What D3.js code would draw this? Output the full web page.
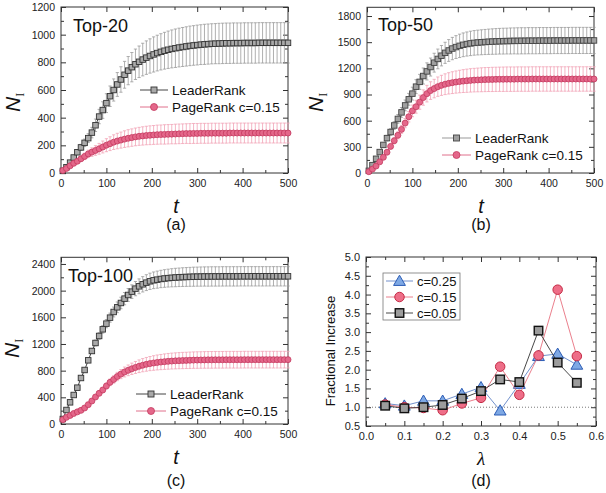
<!DOCTYPE html>
<html><head><meta charset="utf-8">
<script src="https://cdn.jsdelivr.net/npm/d3@7"></script>
<style>body{margin:0;background:#fff}svg{display:block}</style>
</head><body><svg id="c" width="606" height="493"></svg>
<script>
// ---------- DATA ----------
const tSteps = [4,12,20,28,36,44,52,60,68,76,84,92,100,
  108,116,124,132,140,148,156,164,172,180,
  188,196,204,212,220,228,236,244,252,260,
  268,276,284,292,300,308,316,324,332,340,
  348,356,364,372,380,388,396,404,412,420,
  428,436,444,452,460,468,476,484,492,500];

// Panel (a) Top-20
const leaderTop20 = [15,42,75,112,150,185,218,252,292,345,408,455,505,
  555,600,640,676,710,740,765,786,804,820,
  834,846,857,867,876,884,891,897,902,907,
  911,915,919,922,925,928,930,932,934,935,
  936,937,938,938,939,939,939,940,940,940,
  940,941,941,941,941,941,941,941,941,941];
const leaderTop20Err = [4,7,10,14,18,22,27,32,38,45,52,60,68,
  74,80,86,92,97,102,106,110,114,118,
  121,124,127,129,131,133,135,137,139,140,
  141,142,143,143,144,144,145,145,145,145,
  146,146,146,146,146,146,146,146,146,146,
  146,146,146,146,146,146,146,146,146,146];
const pageTop20 = [18,33,52,70,85,103,120,138,151,163,175,188,201,
  212,223,231,238,245,251,256,261,265,268,
  271,273,275,277,278,279,280,281,282,283,
  284,285,285,286,286,287,287,287,288,288,
  288,288,288,289,289,289,289,289,289,289,
  289,289,289,289,289,289,289,289,289,289];
const pageTop20Err = [4,6,9,12,15,19,23,27,31,35,39,43,47,
  50,53,56,58,60,62,63,64,65,66,
  67,68,68,69,69,70,70,70,71,71,
  71,71,72,72,72,72,72,72,72,72,
  72,72,72,72,72,72,72,72,72,72,
  72,72,72,72,72,72,72,72,72,72];

// Panel (b) Top-50
const leaderTop50 = [25,90,163,240,322,400,470,545,620,695,775,845,910,
  990,1045,1112,1165,1215,1265,1308,1345,1378,1405,
  1427,1444,1458,1470,1479,1486,1492,1496,1499,1502,
  1505,1507,1509,1511,1512,1513,1514,1515,1515,1516,
  1516,1517,1517,1517,1518,1518,1518,1518,1519,1519,
  1519,1519,1519,1520,1520,1520,1520,1520,1520,1520];
const leaderTop50Err = [3,8,14,20,26,32,38,44,50,56,62,68,74,
  80,86,92,98,103,108,113,117,121,125,
  128,131,134,136,138,140,141,142,143,144,
  145,146,147,147,148,148,149,149,150,150,
  150,150,150,150,150,150,150,150,150,150,
  150,150,150,150,150,150,150,150,150,150];
const pageTop50 = [15,45,80,128,180,238,305,370,432,500,572,645,712,
  760,812,865,910,945,968,990,1005,1018,1028,
  1036,1043,1049,1054,1058,1062,1065,1067,1069,1071,
  1072,1073,1074,1075,1075,1076,1076,1076,1077,1077,
  1077,1077,1078,1078,1078,1078,1078,1078,1078,1078,
  1078,1078,1078,1078,1078,1078,1078,1078,1078,1078];
const pageTop50Err = [2,5,9,13,18,23,28,34,40,46,53,60,67,
  74,81,88,95,101,106,111,115,119,122,
  125,127,129,131,133,134,135,136,137,138,
  138,139,139,139,140,140,140,140,140,140,
  140,140,140,140,140,140,140,140,140,140,
  140,140,140,140,140,140,140,140,140,140];

// Panel (c) Top-100
const leaderTop100 = [75,210,325,435,545,690,810,955,1095,1215,1320,1420,1505,
  1595,1680,1750,1815,1880,1935,1985,2030,2065,2095,
  2120,2140,2155,2165,2175,2182,2188,2193,2197,2200,
  2203,2205,2207,2209,2210,2211,2212,2212,2213,2213,
  2213,2214,2214,2214,2214,2214,2215,2215,2215,2215,
  2215,2215,2215,2215,2215,2215,2215,2215,2215,2215];
const leaderTop100Err = [3,6,10,14,18,23,28,33,38,44,50,56,62,
  68,74,80,86,92,97,102,107,111,115,
  119,122,125,128,130,132,134,136,138,139,
  140,141,142,143,143,144,144,145,145,145,
  145,145,145,145,145,145,145,145,145,145,
  145,145,145,145,145,145,145,145,145,145];
const pageTop100 = [65,100,128,158,182,205,240,290,345,405,460,510,570,
  625,668,712,748,780,805,828,848,866,882,
  895,906,915,923,929,935,940,944,947,950,
  952,954,956,958,959,960,961,962,962,963,
  963,963,964,964,964,964,964,965,965,965,
  965,965,965,965,965,965,965,965,965,965];
const pageTop100Err = [3,5,7,9,11,13,16,20,24,29,34,39,44,
  50,56,62,68,74,80,85,90,95,99,
  103,106,109,112,114,116,118,119,120,121,
  122,122,123,123,124,124,124,125,125,125,
  125,125,125,125,125,125,125,125,125,125,
  125,125,125,125,125,125,125,125,125,125];

// Panel (d)
const lambdas = [0.05,0.10,0.15,0.20,0.25,0.30,0.35,0.40,0.45,0.50,0.55];
const fracC025 = [1.10,1.04,1.17,1.17,1.35,1.53,0.91,1.62,2.36,2.42,2.13];
const fracC015 = [1.07,1.00,0.98,0.92,1.10,1.25,2.08,1.33,2.38,4.13,2.36];
const fracC005 = [1.04,0.97,1.00,1.06,1.23,1.43,1.74,1.67,3.04,2.19,1.65];

// tick labels
const tTicks = [0,100,200,300,400,500];
const tMinor = [50,150,250,350,450];
const yTicksA = [0,200,400,600,800,1000,1200];
const yMinorA = [100,300,500,700,900,1100];
const yTicksB = [0,300,600,900,1200,1500,1800];
const yMinorB = [150,450,750,1050,1350,1650];
const yTicksC = [0,400,800,1200,1600,2000,2400];
const yMinorC = [200,600,1000,1400,1800,2200];
const lamTicks = [0,0.1,0.2,0.3,0.4,0.5,0.6];
const lamMinor = [0.05,0.15,0.25,0.35,0.45,0.55];
const fracTicks = [0.5,1,1.5,2,2.5,3,3.5,4,4.5,5];
const fracMinor = [0.75,1.25,1.75,2.25,2.75,3.25,3.75,4.25,4.75];

// ---------- DRAW ----------
const FONT = "'Liberation Sans', Arial, sans-serif";
const SERIF = "'Liberation Serif', 'Times New Roman', serif";
const svg = d3.select("#c");

function panel(o) {
  const g = svg.append("g");
  const x = d3.scaleLinear().domain(o.xd).range([o.x0, o.x1]);
  const y = d3.scaleLinear().domain(o.yd).range([o.y0, o.y1]);
  const ax = (gen, tr, vals, size, fmt, pad) => {
    const a = g.append("g").attr("transform", tr)
      .call(gen.tickValues(vals).tickSize(size).tickSizeOuter(0).tickPadding(pad).tickFormat(fmt));
    a.select(".domain").remove();
    a.selectAll("line").attr("stroke", "#333").attr("stroke-width", 1);
    a.selectAll("text").attr("font-family", FONT).attr("font-size", o.fs).attr("fill", "#222");
  };
  const none = () => "";
  ax(d3.axisBottom(x), `translate(0,${o.y0})`, o.xMaj, -5, o.xf, o.xpad);
  ax(d3.axisBottom(x), `translate(0,${o.y0})`, o.xMin, -3, none, 0);
  ax(d3.axisTop(x), `translate(0,${o.y1})`, o.xMaj, -5, none, 0);
  ax(d3.axisTop(x), `translate(0,${o.y1})`, o.xMin, -3, none, 0);
  ax(d3.axisLeft(y), `translate(${o.x0},0)`, o.yMaj, -5, o.yf, o.ypad);
  ax(d3.axisLeft(y), `translate(${o.x0},0)`, o.yMin, -3, none, 0);
  ax(d3.axisRight(y), `translate(${o.x1},0)`, o.yMaj, -5, none, 0);
  ax(d3.axisRight(y), `translate(${o.x1},0)`, o.yMin, -3, none, 0);
  g.append("rect").attr("x", o.x0).attr("y", o.y1).attr("width", o.x1 - o.x0).attr("height", o.y0 - o.y1)
    .attr("fill", "none").attr("stroke", "#333").attr("stroke-width", 1);
  return {g, x, y};
}

function marker(sel, kind, cx, cy, s, fill, stroke, sw) {
  if (kind === "square") {
    sel.append("rect").attr("x", cx - s/2).attr("y", cy - s/2).attr("width", s).attr("height", s)
      .attr("fill", fill).attr("stroke", stroke).attr("stroke-width", sw);
  } else if (kind === "circle") {
    sel.append("circle").attr("cx", cx).attr("cy", cy).attr("r", s/2)
      .attr("fill", fill).attr("stroke", stroke).attr("stroke-width", sw);
  } else {
    sel.append("path").attr("d", d3.symbol(d3.symbolTriangle, s*s*0.5)()).attr("transform", `translate(${cx},${cy+1})`)
      .attr("fill", fill).attr("stroke", stroke).attr("stroke-width", sw);
  }
}

function errBars(P, xs, ys, es, color) {
  const eg = P.g.append("g").attr("stroke", color).attr("stroke-width", 0.8);
  xs.forEach((t, i) => {
    const X = P.x(t), a = P.y(ys[i] - es[i]), b = P.y(ys[i] + es[i]);
    eg.append("line").attr("x1", X).attr("x2", X).attr("y1", a).attr("y2", b);
    eg.append("line").attr("x1", X - 1.6).attr("x2", X + 1.6).attr("y1", a).attr("y2", a);
    eg.append("line").attr("x1", X - 1.6).attr("x2", X + 1.6).attr("y1", b).attr("y2", b);
  });
}

function lineMarks(P, xs, ys, st) {
  const line = d3.line().x((d, i) => P.x(xs[i])).y(d => P.y(d));
  P.g.append("path").datum(ys).attr("d", line).attr("fill", "none")
    .attr("stroke", st.line).attr("stroke-width", st.lw || 1);
  const mg = P.g.append("g");
  xs.forEach((t, i) => marker(mg, st.kind, P.x(t), P.y(ys[i]), st.size, st.fill, st.stroke, st.sw));
}

function legendEntry(x, y, st, label, fs, len) {
  const g = svg.append("g");
  g.append("line").attr("x1", x).attr("x2", x + len).attr("y1", y).attr("y2", y)
    .attr("stroke", st.line).attr("stroke-width", st.lw || 1);
  marker(g, st.kind, x + len/2, y, st.legSize || st.size, st.fill, st.stroke, st.sw);
  g.append("text").attr("x", x + len + 4).attr("y", y).attr("dy", "0.36em")
    .attr("font-family", FONT).attr("font-size", fs).attr("fill", "#111").text(label);
}

function nLabel(x, y) {
  const t = svg.append("text").attr("transform", `translate(${x},${y}) rotate(-90)`)
    .attr("font-family", FONT).attr("font-size", 21).attr("font-style", "italic").attr("fill", "#111").text("N");
  t.append("tspan").attr("font-family", SERIF).attr("font-size", 12).attr("font-style", "normal").attr("dy", 4).text("I");
}
function txt(x, y, s, size, opts = {}) {
  svg.append("text").attr("x", x).attr("y", y).attr("text-anchor", opts.anchor || "middle")
    .attr("font-family", opts.family || FONT).attr("font-size", size)
    .attr("font-style", opts.italic ? "italic" : "normal").attr("fill", "#111").text(s);
}

const stLeader = {kind: "square", size: 5.5, fill: "#a9a9a9", stroke: "#333", sw: 0.9, line: "#444", legSize: 6};
const stLeaderB = {kind: "square", size: 5.5, fill: "#a0a0a0", stroke: "#444", sw: 0.9, line: "#999", legSize: 6};
const stPage = {kind: "circle", size: 6, fill: "#e4678a", stroke: "#c43a60", sw: 0.8, line: "#e0708c", legSize: 7};
const errGrey = "#9a9a9a", errPink = "#f1a3b6";

const common = {fs: 10.5, xpad: 7, ypad: 6, xf: d3.format("d"), yf: d3.format("d"), xd: [0, 500], xMaj: tTicks, xMin: tMinor};

// (a)
const A = panel({...common, x0: 61, x1: 288, y0: 173, y1: 7, yd: [0, 1200], yMaj: yTicksA, yMin: yMinorA});
errBars(A, tSteps, leaderTop20, leaderTop20Err, errGrey);
errBars(A, tSteps, pageTop20, pageTop20Err, errPink);
lineMarks(A, tSteps, leaderTop20, stLeader);
lineMarks(A, tSteps, pageTop20, stPage);
txt(73, 31.5, "Top-20", 18, {anchor: "start"});
legendEntry(140, 90, stLeader, "LeaderRank", 13.5, 28);
legendEntry(140, 107, stPage, "PageRank c=0.15", 13.5, 28);
nLabel(19.5, 112);
txt(176, 213, "t", 20, {italic: true});
txt(176, 230, "(a)", 16);

// (b)
const B = panel({...common, x0: 367, x1: 594, y0: 173, y1: 7.3, yd: [0, 1900], yMaj: yTicksB, yMin: yMinorB});
errBars(B, tSteps, leaderTop50, leaderTop50Err, errGrey);
errBars(B, tSteps, pageTop50, pageTop50Err, errPink);
lineMarks(B, tSteps, leaderTop50, stLeaderB);
lineMarks(B, tSteps, pageTop50, stPage);
txt(378, 31, "Top-50", 18, {anchor: "start"});
legendEntry(442, 138, stLeaderB, "LeaderRank", 13.5, 29);
legendEntry(442, 155, stPage, "PageRank c=0.15", 13.5, 29);
nLabel(323, 112);
txt(481, 213, "t", 20, {italic: true});
txt(481, 230, "(b)", 16);

// (c)
const C = panel({...common, x0: 61, x1: 288, y0: 424, y1: 257.3, yd: [0, 2500], yMaj: yTicksC, yMin: yMinorC});
errBars(C, tSteps, leaderTop100, leaderTop100Err, errGrey);
errBars(C, tSteps, pageTop100, pageTop100Err, errPink);
lineMarks(C, tSteps, leaderTop100, stLeader);
lineMarks(C, tSteps, pageTop100, stPage);
txt(68, 281.5, "Top-100", 18, {anchor: "start"});
legendEntry(136, 394, stLeader, "LeaderRank", 13.5, 30);
legendEntry(136, 411, stPage, "PageRank c=0.15", 13.5, 30);
nLabel(18.5, 358);
txt(176, 463.5, "t", 20, {italic: true});
txt(176, 485.5, "(c)", 16);

// (d)
const D = panel({fs: 11, xpad: 6, ypad: 6, xf: d3.format(".1f"), yf: d3.format(".1f"),
  x0: 366, x1: 596, y0: 426, y1: 257, xd: [0, 0.6], yd: [0.5, 5.0],
  xMaj: lamTicks, xMin: lamMinor, yMaj: fracTicks, yMin: fracMinor});
D.g.append("line").attr("x1", D.x(0)).attr("x2", D.x(0.6)).attr("y1", D.y(1)).attr("y2", D.y(1))
  .attr("stroke", "#555").attr("stroke-width", 0.8).attr("stroke-dasharray", "1,2");
const st025 = {kind: "tri", size: 11, fill: "#7ea8e4", stroke: "#2b5cb5", sw: 1, line: "#6284c6", lw: 0.9};
const st015 = {kind: "circle", size: 9.5, fill: "#ee6e88", stroke: "#c42a44", sw: 1, line: "#e8707f", lw: 0.9};
const st005 = {kind: "square", size: 8.5, fill: "#9c9c9c", stroke: "#111", sw: 1.4, line: "#333", lw: 0.9};
lineMarks(D, lambdas, fracC025, st025);
lineMarks(D, lambdas, fracC015, st015);
lineMarks(D, lambdas, fracC005, st005);
svg.append("rect").attr("x", 383).attr("y", 273).attr("width", 77).attr("height", 47)
  .attr("fill", "#fff").attr("stroke", "#777").attr("stroke-width", 0.8);
legendEntry(386, 281, st025, "c=0.25", 13, 27);
legendEntry(386, 297, st015, "c=0.15", 13, 27);
legendEntry(386, 313, st005, "c=0.05", 13, 27);
svg.append("text").attr("transform", "translate(334.5,351) rotate(-90)").attr("text-anchor", "middle")
  .attr("font-family", FONT).attr("font-size", 13).attr("fill", "#111").text("Fractional Increase");
txt(481, 465, "λ", 19, {italic: true, family: SERIF});
txt(481, 486, "(d)", 16);
</script>
</body></html>
